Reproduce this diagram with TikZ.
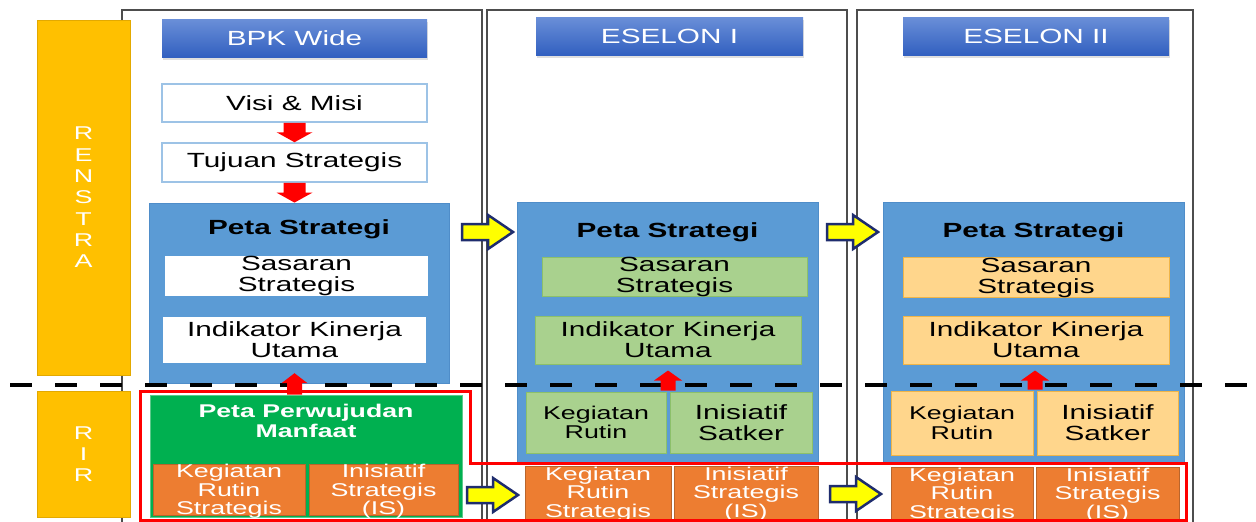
\documentclass[tikz,border=0pt]{standalone}
\usepackage{fontspec}
\setmainfont{Liberation Sans}[FakeStretch=1.45]
\usetikzlibrary{calc,shadows}
\definecolor{gold}{HTML}{FFC000}
\definecolor{golddark}{HTML}{E3A900}
\definecolor{framegray}{HTML}{4D4D4D}
\definecolor{hdrtop}{HTML}{6A8FD8}
\definecolor{hdrbot}{HTML}{3260C0}
\definecolor{lightblue}{HTML}{9DC3E6}
\definecolor{psblue}{HTML}{5B9BD5}
\definecolor{psedge}{HTML}{4F8DC9}
\definecolor{lgreen}{HTML}{A9D18E}
\definecolor{lgreenedge}{HTML}{8CC06A}
\definecolor{lorange}{HTML}{FFD68C}
\definecolor{lorangeedge}{HTML}{F0B548}
\definecolor{orng}{HTML}{ED7D31}
\definecolor{orngdark}{HTML}{B9652C}
\definecolor{pgreen}{HTML}{00B050}
\definecolor{pgreenedge}{HTML}{5CC98A}
\definecolor{navyb}{HTML}{1F2D6E}
\definecolor{yel}{HTML}{FFFF00}
\tikzset{
  frame/.style={draw=framegray, line width=2pt, rectangle, inner sep=0pt},
  sidebar/.style={fill=gold, draw=golddark, line width=0.8pt, inner sep=0pt, align=center, text=white, font=\fontsize{18.5}{21.3}\selectfont},
  hdr/.style={top color=hdrtop, bottom color=hdrbot, draw=none, inner sep=0pt, text=white, font=\fontsize{20.5}{21}\selectfont, drop shadow={opacity=0.25, shadow xshift=0.5pt, shadow yshift=-2.5pt}},
  wbox/.style={fill=white, draw=lightblue, line width=1.5pt, inner sep=0pt, align=center, font=\fontsize{20.5}{21}\selectfont},
  plainbox/.style={fill=white, draw=none, inner sep=0pt, align=center, font=\fontsize{20.5}{21}\selectfont},
  psbox/.style={fill=psblue, draw=psedge, line width=0.8pt, inner sep=0pt},
  pstitle/.style={inner sep=0pt, font=\bfseries\fontsize{20.5}{21}\selectfont},
  gbox/.style={fill=lgreen, draw=lgreenedge, line width=1pt, inner sep=0pt, align=center, font=\fontsize{20.5}{21}\selectfont},
  ybox/.style={fill=lorange, draw=lorangeedge, line width=1pt, inner sep=0pt, align=center, font=\fontsize{20.5}{21}\selectfont},
  smalltext/.style={font=\fontsize{18.5}{19.5}\selectfont},
  obox/.style={fill=orng, draw=orngdark, line width=1pt, inner sep=0pt},
  otxt/.style={inner sep=0pt, align=center, text=white, font=\fontsize{18.5}{18.5}\selectfont},
  ppmbox/.style={fill=pgreen, draw=pgreenedge, line width=1pt, inner sep=0pt},
  ppmtitle/.style={inner sep=0pt, align=center, text=white, font=\bfseries\fontsize{18.4}{20}\selectfont},
  yarr/.pic={\draw[draw=navyb, fill=yel, line width=2.5pt, line join=miter]
      (0,-8) -- (26,-8) -- (26,-17) -- (51,0) -- (26,17) -- (26,8) -- (0,8) -- cycle;}
}
\begin{document}
\begin{tikzpicture}[x=1pt,y=-1pt]
\useasboundingbox (0,0) rectangle (1256,522);
\clip (0,0) rectangle (1256,522);
\fill[white] (0,0) rectangle (1256,522);

% column frames
\node[frame, minimum width=360pt, minimum height=530pt] (f1) at (302,275) {};
\node[frame, minimum width=360pt, minimum height=530pt] (f2) at (667,275) {};
\node[frame, minimum width=336pt, minimum height=530pt] (f3) at (1025,275) {};

% side bars
\node[sidebar, minimum width=93pt, minimum height=355pt] (renstra) at (83.5,197.5) {R\\E\\N\\S\\T\\R\\A};
\node[sidebar, minimum width=93pt, minimum height=126pt] (rir) at (83.5,454) {R\\I\\R};

% headers
\node[hdr, minimum width=265pt, minimum height=38pt] (h1) at (294.5,38) {BPK Wide};
\node[hdr, minimum width=267pt, minimum height=38pt] (h2) at (669.5,36) {ESELON I};
\node[hdr, minimum width=266pt, minimum height=38pt] (h3) at (1036,36) {ESELON II};

% column 1
\node[wbox, minimum width=265pt, minimum height=38pt] (visi) at (294.5,103) {Visi \& Misi};
\node[wbox, minimum width=265pt, minimum height=39pt] (tujuan) at (294.5,162.5) {Tujuan Strategis};
\node[psbox, minimum width=300pt, minimum height=180pt] (ps1) at (299,293) {};
\node[pstitle] (pst1) at (299,229) {Peta Strategi};
\node[plainbox, minimum width=263pt, minimum height=38pt] (ss1) at (296.5,276) {Sasaran\\Strategis};
\node[plainbox, minimum width=263pt, minimum height=46pt] (iku1) at (294.5,340) {Indikator Kinerja\\Utama};

\node[ppmbox, minimum width=312pt, minimum height=122pt] (ppm) at (306,456) {};
\node[ppmtitle] (ppmt) at (306,421) {Peta Perwujudan\\Manfaat};
\node[obox, minimum width=152pt, minimum height=51pt] (krs1) at (229,489.5) {};
\node[obox, minimum width=149pt, minimum height=51pt] (is1) at (383.5,489.5) {};
\node[otxt] (krs1t) at (229,491.5) {Kegiatan\\Rutin\\Strategis};
\node[otxt] (is1t) at (383.5,491.5) {Inisiatif\\Strategis\\(IS)};

% column 2
\node[psbox, minimum width=301pt, minimum height=261pt] (ps2) at (667.5,332.5) {};
\node[pstitle] (pst2) at (667.5,232) {Peta Strategi};
\node[gbox, minimum width=265pt, minimum height=38pt] (ss2) at (674.5,277) {Sasaran\\Strategis};
\node[gbox, minimum width=266pt, minimum height=48pt] (iku2) at (668,340) {Indikator Kinerja\\Utama};
\node[gbox, smalltext, minimum width=140pt, minimum height=61pt] (kr2) at (596,422.5) {Kegiatan\\Rutin};
\node[gbox, minimum width=142pt, minimum height=61pt] (isat2) at (741,422.5) {Inisiatif\\Satker};
\node[obox, minimum width=146pt, minimum height=64pt] (krs2) at (598,498) {};
\node[obox, minimum width=144pt, minimum height=64pt] (is2) at (746,498) {};
\node[otxt] (krs2t) at (598,494) {Kegiatan\\Rutin\\Strategis};
\node[otxt] (is2t) at (746,494) {Inisiatif\\Strategis\\(IS)};

% column 3
\node[psbox, minimum width=301pt, minimum height=261pt] (ps3) at (1033.5,332.5) {};
\node[pstitle] (pst3) at (1033.5,232) {Peta Strategi};
\node[ybox, minimum width=266pt, minimum height=39pt] (ss3) at (1036,277.5) {Sasaran\\Strategis};
\node[ybox, minimum width=266pt, minimum height=48pt] (iku3) at (1036,340) {Indikator Kinerja\\Utama};
\node[ybox, smalltext, minimum width=142pt, minimum height=64pt] (kr3) at (962,423) {Kegiatan\\Rutin};
\node[ybox, minimum width=141pt, minimum height=64pt] (isat3) at (1107.5,423) {Inisiatif\\Satker};
\node[obox, minimum width=142pt, minimum height=64pt] (krs3) at (962,499) {};
\node[obox, minimum width=143pt, minimum height=64pt] (is3) at (1107.5,499) {};
\node[otxt] (krs3t) at (962,495) {Kegiatan\\Rutin\\Strategis};
\node[otxt] (is3t) at (1107.5,495) {Inisiatif\\Strategis\\(IS)};

% dashed divider
\draw[black, line width=3.5pt, dash pattern=on 22pt off 23pt] (10,385) -- (1256,385);

% red down arrows
\fill[red] let \p1=(visi.south), \p2=(tujuan.north) in
  (\x1-11pt,\y1) -- (\x1+11pt,\y1) -- (\x1+11pt,\y2+10pt) -- (\x1+18pt,\y2+10pt) -- (\x2,\y2)
  -- (\x1-18pt,\y2+10pt) -- (\x1-11pt,\y2+10pt) -- cycle;
\fill[red] let \p1=(tujuan.south), \p2=(ps1.north) in
  (\x1-11pt,\y1) -- (\x1+11pt,\y1) -- (\x1+11pt,\y2+10pt) -- (\x1+18pt,\y2+10pt) -- (\x1,\y2)
  -- (\x1-18pt,\y2+10pt) -- (\x1-11pt,\y2+10pt) -- cycle;

% red up arrows
\coordinate (up1s) at (iku1.south |- ppm.north);
\coordinate (up1e) at ($(iku1.south)+(0,10)$);
\fill[red] let \p1=(up1s), \p2=(up1e) in
  (\x1-7.5pt,\y1) -- (\x1+7.5pt,\y1) -- (\x1+7.5pt,\y2-10pt) -- (\x1+13pt,\y2-10pt) -- (\x1,\y2)
  -- (\x1-13pt,\y2-10pt) -- (\x1-7.5pt,\y2-10pt) -- cycle;
\coordinate (up2s) at ($(kr2.north east)!0.5!(isat2.north west)+(0,-1)$);
\coordinate (up2e) at ($(up2s |- iku2.south)+(0,6)$);
\fill[red] let \p1=(up2s), \p2=(up2e) in
  (\x1-7.5pt,\y1) -- (\x1+7.5pt,\y1) -- (\x1+7.5pt,\y2-10pt) -- (\x1+14pt,\y2-10pt) -- (\x1,\y2)
  -- (\x1-14pt,\y2-10pt) -- (\x1-7.5pt,\y2-10pt) -- cycle;
\coordinate (up3s) at ($(kr3.north east)!0.5!(isat3.north west)+(0,-1)$);
\coordinate (up3e) at ($(up3s |- iku3.south)+(0,6)$);
\fill[red] let \p1=(up3s), \p2=(up3e) in
  (\x1-7.5pt,\y1) -- (\x1+7.5pt,\y1) -- (\x1+7.5pt,\y2-10pt) -- (\x1+14pt,\y2-10pt) -- (\x1,\y2)
  -- (\x1-14pt,\y2-10pt) -- (\x1-7.5pt,\y2-10pt) -- cycle;

% red outline
\draw[red, line width=3pt, line join=miter] (140,391) -- (470,391) -- (470,463) -- (1186,463) -- (1186,520) -- (140,520) -- cycle;

% yellow arrows
\pic at (462,232) {yarr};
\pic at (827,232) {yarr};
\pic at (467,495) {yarr};
\pic at (830,494) {yarr};
\end{tikzpicture}
\end{document}
